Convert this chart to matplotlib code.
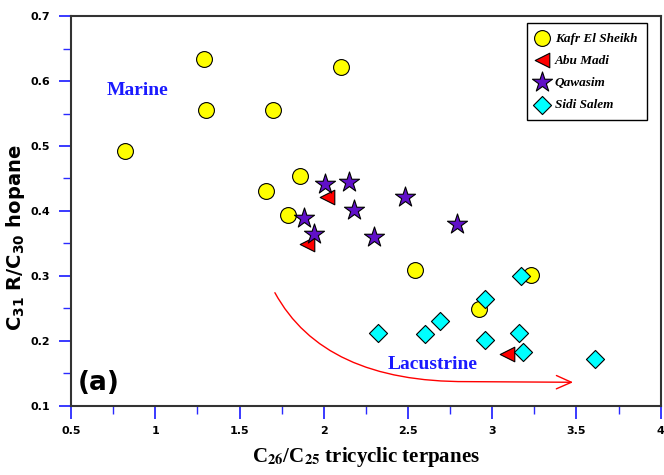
"""
C31 R/C30 hopane vs C26/C25 tricyclic terpanes cross plot.
"""

import matplotlib
matplotlib.use("Agg")
import matplotlib.pyplot as plt
from matplotlib.path import Path
from matplotlib.patches import FancyArrowPatch
from matplotlib.ticker import MultipleLocator

# Kafr El Sheikh
kafr_x = [0.82, 1.29, 1.30, 1.70, 2.10, 1.86, 1.66, 1.79, 2.54, 2.92, 3.23]
kafr_y = [0.492, 0.634, 0.555, 0.556, 0.622, 0.453, 0.431, 0.393, 0.309, 0.249, 0.302]

# Abu Madi
abu_x = [2.02, 1.90, 3.09]
abu_y = [0.422, 0.349, 0.179]

# Qawasim
qaw_x = [2.01, 2.15, 2.18, 1.88, 1.94, 2.48, 2.79, 2.30]
qaw_y = [0.442, 0.445, 0.402, 0.389, 0.365, 0.422, 0.380, 0.360]

# Sidi Salem
sidi_x = [3.17, 2.96, 2.69, 2.60, 2.32, 2.96, 3.16, 3.18, 3.61]
sidi_y = [0.300, 0.264, 0.231, 0.211, 0.212, 0.201, 0.212, 0.182, 0.172]

# trend arrow (marine -> lacustrine)
arrow_x = [1.71, 2.00, 2.85, 3.48]
arrow_y = [0.274, 0.136, 0.137, 0.136]

TICK_BLUE = "#2a2aff"


def main():
    """
    Main function.
    """
    fig = plt.figure(figsize=(6.64, 4.75), dpi=100)
    ax = fig.add_axes([0.107, 0.146, 0.888, 0.820])

    edge = dict(edgecolor="black", linewidths=0.8, zorder=3)
    ax.scatter(kafr_x, kafr_y, s=130, marker="o", color="#ffff00", label="Kafr El Sheikh", **edge)
    ax.scatter(abu_x, abu_y, s=110, marker="<", color="#ff0000", label="Abu Madi", **edge)
    ax.scatter(qaw_x, qaw_y, s=230, marker="*", color="#6010c8", label="Qawasim", **edge)
    ax.scatter(sidi_x, sidi_y, s=85, marker="D", color="#00ffff", label="Sidi Salem", **edge)

    # curved arrow
    path = Path(list(zip(arrow_x, arrow_y)),
                [Path.MOVETO, Path.CURVE3, Path.CURVE3, Path.LINETO])
    arrow = FancyArrowPatch(path=path, arrowstyle="->,head_length=0.9,head_width=0.4",
                            mutation_scale=12, color="red", lw=1.0,
                            transform=ax.transData)
    ax.add_patch(arrow)

    ax.text(0.893, 0.585, "Marine", color="#1a1aff", fontsize=14, fontweight="bold",
            family="Liberation Serif", ha="center", va="center")
    ax.text(2.648, 0.164, "Lacustrine", color="#1a1aff", fontsize=14, fontweight="bold",
            family="Liberation Serif", ha="center", va="center")
    ax.text(0.012, 0.058, "(a)", transform=ax.transAxes, fontsize=19,
            fontweight="heavy", ha="left", va="center")

    ax.set_xlim(0.5, 4)
    ax.set_ylim(0.1, 0.7)
    ax.xaxis.set_minor_locator(MultipleLocator(0.25))
    ax.yaxis.set_minor_locator(MultipleLocator(0.05))
    ax.set_xticks([0.5, 1, 1.5, 2, 2.5, 3, 3.5, 4])
    ax.set_xticklabels(["0.5", "1", "1.5", "2", "2.5", "3", "3.5", "4"])
    ax.set_yticks([0.1, 0.2, 0.3, 0.4, 0.5, 0.6, 0.7])
    ax.set_yticklabels(["0.1", "0.2", "0.3", "0.4", "0.5", "0.6", "0.7"])

    ax.tick_params(which="both", direction="out", color=TICK_BLUE, top=False, right=False)
    ax.tick_params(which="major", length=9, width=1.3, labelsize=8, pad=6)
    ax.tick_params(which="minor", length=6, width=1.0)
    for lab in ax.get_xticklabels() + ax.get_yticklabels():
        lab.set_fontweight("bold")

    for sp in ax.spines.values():
        sp.set_linewidth(1.5)
        sp.set_color("#333333")

    ax.set_xlabel(r"C$_{\mathbf{26}}$/C$_{\mathbf{25}}$ tricyclic terpanes",
                  fontsize=15, fontweight="bold", family="Liberation Serif",
                  math_fontfamily="stix", labelpad=6)
    ax.set_ylabel(r"C$_{\mathbf{31}}$ R/C$_{\mathbf{30}}$ hopane",
                  fontsize=14, fontweight="bold")
    ax.yaxis.set_label_coords(-0.074, 0.43)

    leg = ax.legend(loc="upper right", bbox_to_anchor=(0.976, 0.982), fancybox=False,
                    framealpha=1, edgecolor="black", borderpad=0.7, labelspacing=0.75,
                    handletextpad=0.5, handlelength=0.9, borderaxespad=0,
                    scatterpoints=1,
                    prop={"family": "Liberation Serif", "weight": "bold",
                          "style": "italic", "size": 9.5})
    leg.get_frame().set_linewidth(1.0)

    fig.savefig("out.png", dpi=100)


if __name__ == "__main__":
    main()
